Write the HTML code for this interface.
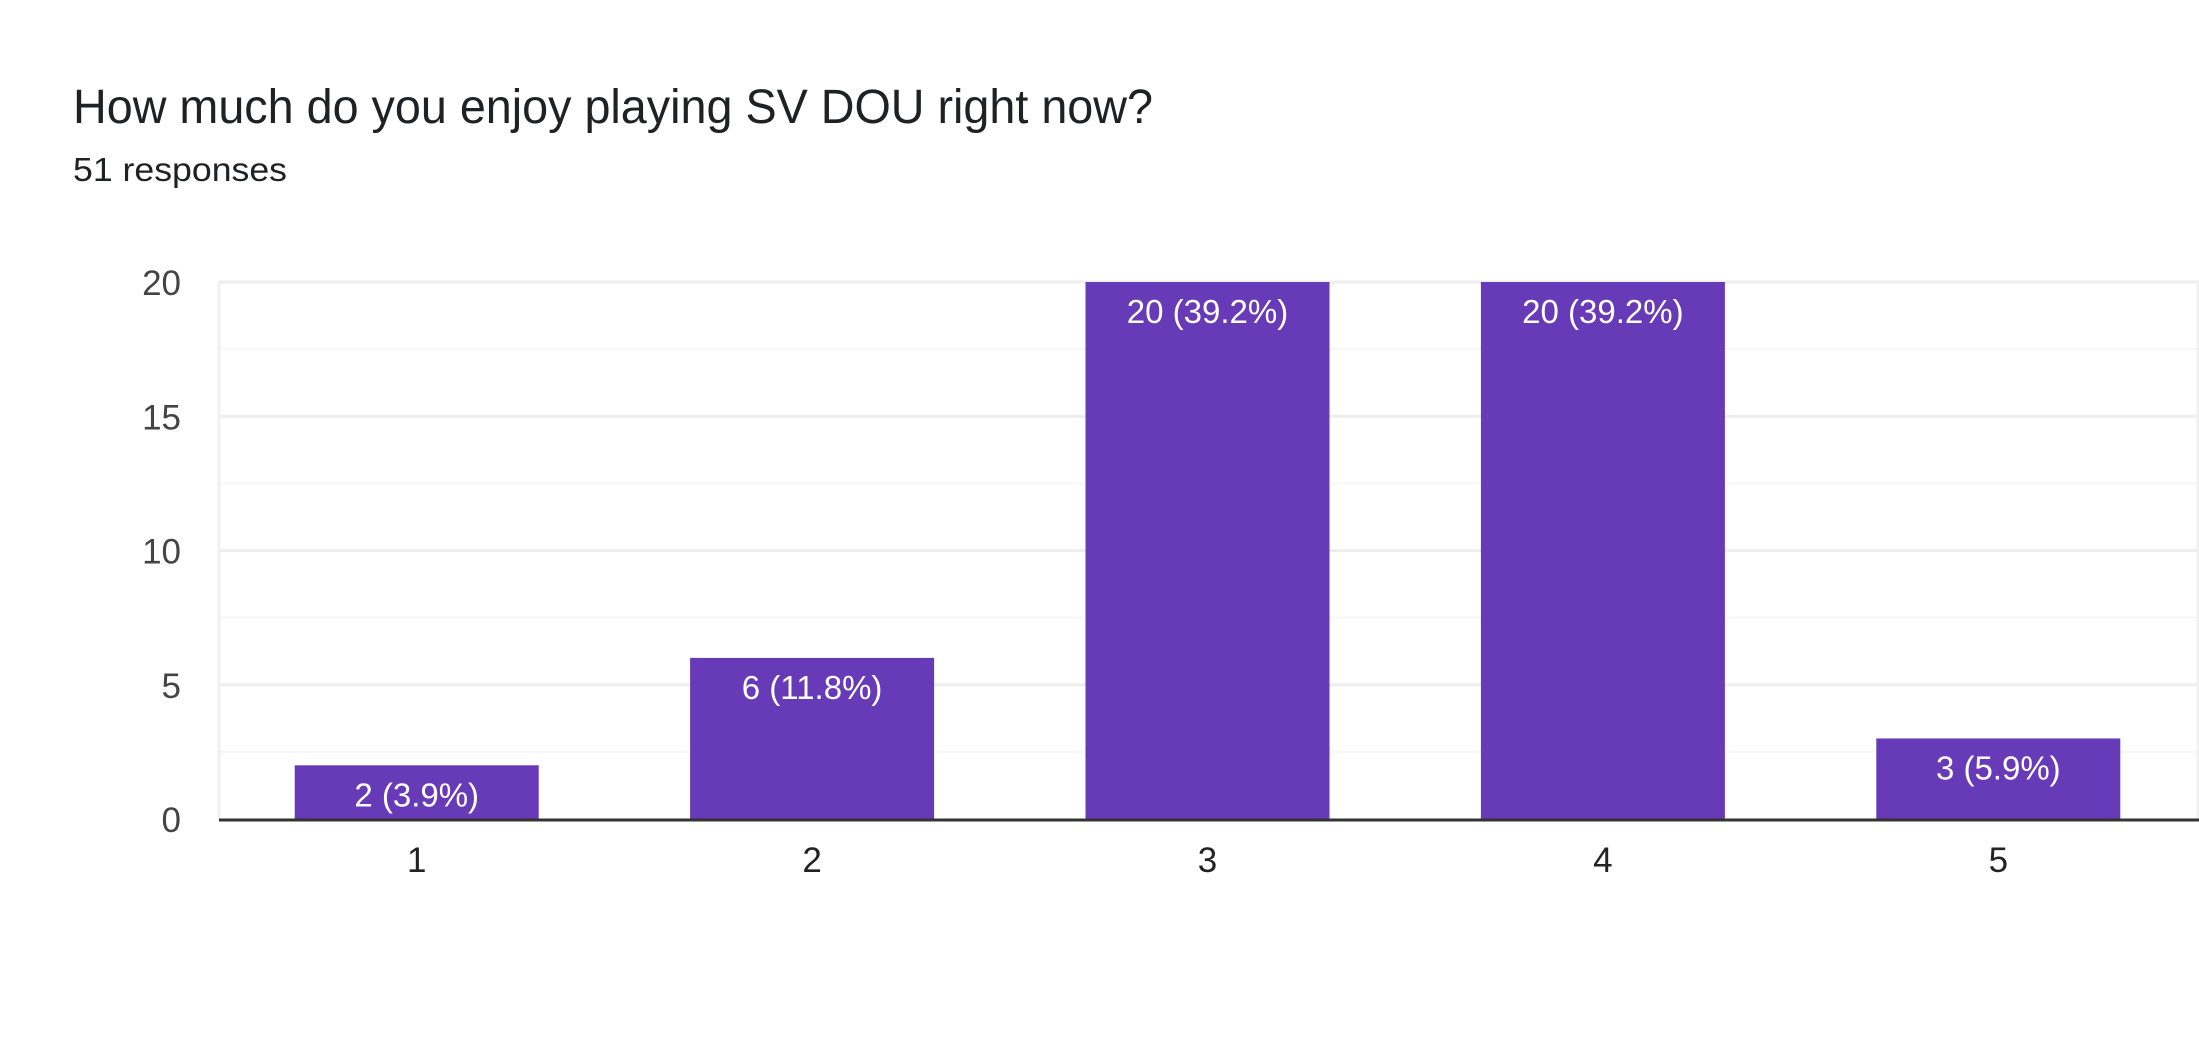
<!DOCTYPE html>
<html><head><meta charset="utf-8"><style>
html,body{margin:0;padding:0;background:#fff;}
svg{display:block;font-family:"Liberation Sans",Arial,sans-serif;}
</style></head><body>
<svg id="chart" width="2199" height="1044" viewBox="0 0 2199 1044" xmlns="http://www.w3.org/2000/svg">
<rect width="2199" height="1044" fill="#fff"/>
<text x="73" y="123" font-size="48" fill="#202124" textLength="1080" lengthAdjust="spacingAndGlyphs">How much do you enjoy playing SV DOU right now?</text>
<text x="73" y="181" font-size="33" fill="#202124" textLength="214" lengthAdjust="spacingAndGlyphs">51 responses</text>
<g id="grid"></g>
<g id="bars"></g>
<g id="axes"></g>
</svg>
<script>
const categories = ["1","2","3","4","5"];
const counts = [2, 6, 20, 20, 3];
const barLabels = ["2 (3.9%)","6 (11.8%)","20 (39.2%)","20 (39.2%)","3 (5.9%)"];
const yTicks = [0, 5, 10, 15, 20];
const yMax = 20;

const NS = "http://www.w3.org/2000/svg";
const L = 219, R = 2196, T = 282, B = 819;
const bandW = (R - L) / categories.length;
const barW = 244;
function y(v){ return B - (v / yMax) * (B - T); }
function xc(i){ return L + bandW * (i + 0.5); }
function mk(tag, attrs, parent){ const e = document.createElementNS(NS, tag); for (const k in attrs) e.setAttribute(k, attrs[k]); parent.appendChild(e); return e; }

const grid = document.getElementById('grid');
const bars = document.getElementById('bars');
const axes = document.getElementById('axes');

// minor gridlines
for (let v = 2.5; v < yMax; v += 5) {
  const ln = mk('line', {x1:L, x2:R+3, y1:y(v), y2:y(v), stroke:'#f6f6f6', 'stroke-width':2}, grid);
  
  
}
yTicks.forEach(v => {
  if (v > 0) {
    const ln = mk('line', {x1:L, x2:R+3, y1:y(v), y2:y(v), stroke:'#eeeeee', 'stroke-width':3}, grid);
    
    
  }
  const t = mk('text', {x:181, y:y(v)+13, 'font-size':35, fill:'#444', 'text-anchor':'end'}, axes);
  t.textContent = v;
  
  
});
const lb = mk('line', {x1:L, x2:L, y1:T-1, y2:B, stroke:'#f0f0f0', 'stroke-width':3}, grid);


const rb = mk('line', {x1:R+2, x2:R+2, y1:T-1, y2:B, stroke:'#f0f0f0', 'stroke-width':3}, grid);



categories.forEach((c, i) => {
  const cx = xc(i);
  const r = mk('rect', {x:cx-barW/2, y:y(counts[i]), width:barW, height:B-y(counts[i]), fill:'#673ab7'}, bars);
  
  
  const t = mk('text', {x:cx, y:y(counts[i])+41, 'font-size':33, fill:'#fff', 'text-anchor':'middle'}, bars);
  t.textContent = barLabels[i];
  
  
  const xl = mk('text', {x:cx, y:872, 'font-size':35, fill:'#222', 'text-anchor':'middle'}, axes);
  xl.textContent = c;
  
  
});
const base = mk('line', {x1:L, x2:R+3, y1:B+1, y2:B+1, stroke:'#333', 'stroke-width':3}, axes);


</script>
</body></html>
